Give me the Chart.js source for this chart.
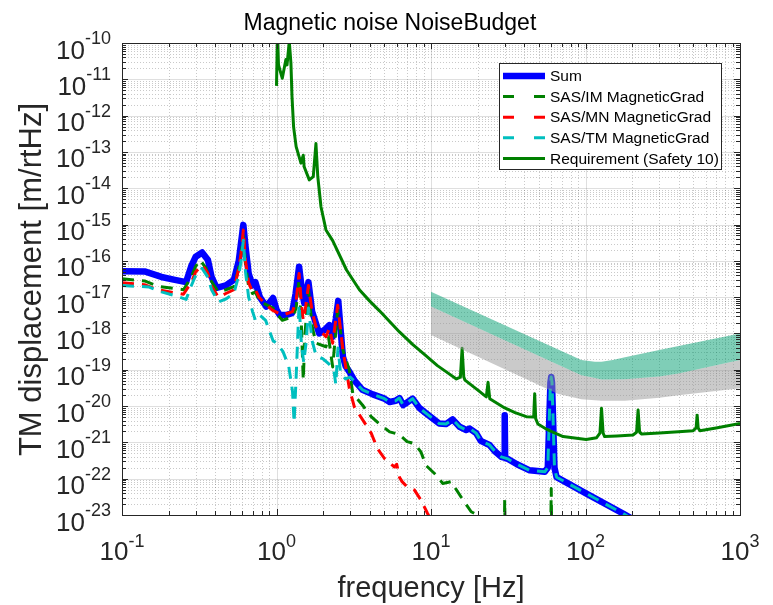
<!DOCTYPE html>
<html>
<head>
<meta charset="utf-8">
<title>Magnetic noise NoiseBudget</title>
<script src="https://cdn.jsdelivr.net/npm/chart.js@4.4.0/dist/chart.umd.min.js"></script>
<style>
  html, body { margin: 0; padding: 0; background: #fff; }
  canvas { display: block; }
</style>
</head>
<body>
<canvas id="noiseChart" width="773" height="605"></canvas>
<script>
// frequency [Hz] and TM displacement [m/rtHz]
var sumFreq = [0.1, 0.14, 0.18, 0.22, 0.26, 0.28, 0.30, 0.33, 0.36, 0.38, 0.41, 0.47, 0.53, 0.57, 0.59, 0.61, 0.63, 0.66, 0.70, 0.73, 0.78, 0.86, 0.95, 1.0, 1.05, 1.15, 1.26, 1.33, 1.40, 1.46, 1.51, 1.56, 1.61, 1.70, 1.89, 2.05, 2.2, 2.31, 2.42, 2.51, 2.6, 2.69, 2.8, 2.96, 3.2, 3.6, 4.2, 5.0, 5.4, 5.9, 6.25, 6.6, 7.0, 7.6, 8.4, 9.3, 11.3, 12.5, 13.8, 15.3, 16.9, 17.8, 19.6, 21, 23.9, 26, 28.5, 29.8, 30, 30.2, 31.5, 36, 43.5, 54.5, 57, 59.3, 60, 60.7, 63, 65, 100, 175, 200];
var sumVal = [5.2e-17, 5.1e-17, 3.6e-17, 3.0e-17, 2.6e-17, 6.9e-17, 1.3e-16, 1.7e-16, 1.05e-16, 3.6e-17, 1.8e-17, 2.1e-17, 3.0e-17, 1.0e-16, 3.2e-16, 9.8e-16, 2.5e-16, 4.5e-17, 2.1e-17, 2.6e-17, 1.0e-17, 5.5e-18, 9.5e-18, 4.5e-18, 3.2e-18, 3.2e-18, 3.6e-18, 1.26e-17, 6.9e-17, 1.6e-17, 6.9e-18, 1.4e-17, 2.6e-17, 4.0e-18, 1.0e-18, 1.26e-18, 1.7e-18, 8.1e-19, 2.5e-18, 7.9e-18, 1.26e-18, 2.3e-19, 1.26e-19, 8.9e-20, 5.0e-20, 2.8e-20, 2.1e-20, 1.6e-20, 1.3e-20, 1.4e-20, 1.66e-20, 1.07e-20, 1.26e-20, 1.6e-20, 8.9e-21, 6.3e-21, 3.3e-21, 3.2e-21, 4.3e-21, 2.7e-21, 2.2e-21, 2.4e-21, 1.8e-21, 1.1e-21, 8.5e-22, 5.6e-22, 4.0e-22, 3.8e-22, 5.6e-21, 3.7e-22, 3.5e-22, 2.5e-22, 1.7e-22, 1.55e-22, 2.0e-22, 4.5e-20, 6.3e-20, 4.5e-20, 2.0e-22, 1.1e-22, 4.0e-23, 1.1e-23, 7.9e-24];

var imFreq = [0.1, 0.14, 0.17, 0.25, 0.28, 0.30, 0.32, 0.35, 0.37, 0.42, 0.47, 0.53, 0.57, 0.59, 0.61, 0.63, 0.66, 0.70, 0.73, 0.77, 0.85, 0.95, 1.0, 1.09, 1.27, 1.34, 1.40, 1.45, 1.49, 1.53, 1.61, 1.7, 1.80, 2.09, 2.17, 2.31, 2.49, 2.69, 2.96, 3.12, 3.6, 4.1, 4.6, 5.4, 6.2, 7.0, 7.8, 8.6, 9.3, 10.8, 11.9, 13.5, 16.1, 18.2, 20, 22, 29.7, 30, 30.3, 59.3, 60, 60.7, 100];
var imVal = [3.2e-17, 2.8e-17, 2.0e-17, 1.6e-17, 3.5e-17, 7.1e-17, 1.05e-16, 6.3e-17, 3.2e-17, 1.4e-17, 1.6e-17, 1.95e-17, 6.3e-17, 1.6e-16, 5.0e-16, 7.9e-17, 2.0e-17, 1.26e-17, 1.4e-17, 8.3e-18, 6.3e-18, 5.0e-18, 3.5e-18, 2.3e-18, 2.9e-18, 5.0e-18, 3.0e-17, 1.6e-18, 5.2e-20, 1.0e-18, 1.6e-17, 1.6e-18, 5.4e-19, 4.3e-19, 8.1e-19, 1.2e-19, 4.4e-18, 3.5e-19, 9.8e-20, 2.2e-20, 1.07e-20, 5.1e-21, 3.3e-21, 1.95e-21, 1.66e-21, 1.05e-21, 9.3e-22, 5.5e-22, 2.3e-22, 1.26e-22, 7.4e-23, 8.3e-23, 2.6e-23, 1.23e-23, 1.0e-23, 5.0e-24, 1.0e-24, 2.6e-23, 1.0e-24, 5.0e-25, 5.4e-23, 5.0e-25, 1.6e-25];

var mnFreq = [0.1, 0.14, 0.17, 0.25, 0.28, 0.30, 0.33, 0.36, 0.38, 0.42, 0.47, 0.53, 0.57, 0.59, 0.61, 0.63, 0.66, 0.70, 0.73, 0.77, 0.85, 0.94, 1.09, 1.27, 1.34, 1.40, 1.45, 1.49, 1.54, 1.61, 1.7, 1.80, 2.09, 2.2, 2.31, 2.49, 2.69, 2.96, 3.19, 3.8, 4.1, 4.5, 5.0, 5.8, 6.0, 6.25, 6.5, 7.0, 7.8, 8.6, 9.5, 10.5, 12];
var mnVal = [2.5e-17, 2.2e-17, 1.6e-17, 1.2e-17, 2.5e-17, 5.0e-17, 7.6e-17, 4.5e-17, 2.0e-17, 1.0e-17, 1.26e-17, 1.6e-17, 6.3e-17, 1.6e-16, 7.1e-16, 1.0e-16, 2.5e-17, 1.4e-17, 1.6e-17, 1.0e-17, 6.3e-18, 4.4e-18, 3.2e-18, 4.0e-18, 7.9e-18, 4.5e-17, 6.3e-18, 2.3e-18, 5.0e-18, 2.1e-17, 4.0e-18, 1.55e-18, 8.1e-19, 1.4e-18, 5.4e-19, 6.0e-18, 3.5e-19, 3.1e-20, 9.5e-21, 3.0e-21, 1.8e-21, 6.8e-22, 3.6e-22, 2.1e-22, 2.5e-22, 1.1e-22, 8.3e-23, 6.0e-23, 4.9e-23, 2.6e-23, 1.1e-23, 5.0e-24, 1.6e-24];

var tmFreq = [0.1, 0.15, 0.18, 0.22, 0.26, 0.28, 0.30, 0.33, 0.36, 0.38, 0.42, 0.47, 0.53, 0.57, 0.59, 0.61, 0.63, 0.66, 0.70, 0.73, 0.78, 0.85, 0.95, 1.0, 1.1, 1.2, 1.27, 1.3, 1.34, 1.40, 1.45, 1.5, 1.56, 1.61, 1.7, 1.8, 2.0, 2.2, 2.35, 2.42, 2.5, 2.6, 2.8, 3.0, 3.2, 3.6, 4.2, 5.0, 5.4, 5.9, 6.25, 6.6, 7.0, 7.6, 8.4, 9.3, 11.3, 12.5, 13.8, 15.3, 16.9, 17.8, 19.6, 21, 23.9, 26, 28.5, 31.5, 36, 43.5, 54.5, 57, 59.3, 60, 60.7, 63, 65, 100, 175, 200];
var tmVal = [2.1e-17, 1.9e-17, 1.4e-17, 1.1e-17, 8.7e-18, 2.0e-17, 4.0e-17, 6.2e-17, 3.5e-17, 1.6e-17, 7.4e-18, 8.9e-18, 1.26e-17, 4.0e-17, 1.0e-16, 3.7e-16, 5.0e-17, 1.0e-17, 4.0e-18, 2.3e-18, 3.2e-18, 2.3e-18, 6.3e-19, 5.4e-19, 3.2e-19, 1.26e-19, 2.5e-20, 3.5e-21, 6.3e-20, 6.3e-18, 5.0e-19, 1.6e-19, 6.3e-19, 5.0e-18, 6.3e-19, 2.5e-19, 2.0e-19, 1.4e-19, 1.0e-19, 4.0e-20, 4.0e-19, 7.9e-20, 5.6e-20, 6.3e-20, 4.8e-20, 2.8e-20, 2.1e-20, 1.6e-20, 1.3e-20, 1.4e-20, 1.66e-20, 1.07e-20, 1.26e-20, 1.6e-20, 8.9e-21, 6.3e-21, 3.3e-21, 3.2e-21, 4.3e-21, 2.7e-21, 2.2e-21, 2.4e-21, 1.8e-21, 1.1e-21, 8.5e-22, 5.6e-22, 4.0e-22, 3.5e-22, 2.5e-22, 1.7e-22, 1.55e-22, 2.0e-22, 4.5e-20, 6.3e-20, 4.5e-20, 2.0e-22, 1.1e-22, 4.0e-23, 1.1e-23, 7.9e-24];

var reqFreq = [1.0, 1.015, 1.03, 1.09, 1.15, 1.17, 1.21, 1.24, 1.26, 1.29, 1.34, 1.44, 1.49, 1.51, 1.63, 1.73, 1.80, 1.85, 1.94, 2.09, 2.31, 2.84, 3.44, 4.0, 4.64, 6.25, 7.6, 9.1, 11.0, 12.5, 14.6, 15.5, 15.9, 16.3, 16.6, 20, 22.8, 23.4, 24.0, 30, 35, 41.4, 46.2, 46.9, 47.6, 49.2, 55, 60, 71.6, 101, 118, 124, 127, 130, 133, 160, 203, 214, 219, 224, 231, 300, 400, 498, 520, 528, 536, 550, 700, 1000];
var reqVal = [6.6e-12, 2.0e-10, 2.5e-11, 1.07e-11, 3.5e-11, 2.5e-11, 1.1e-10, 2.75e-11, 3.3e-12, 4.9e-13, 1.4e-13, 4.9e-14, 8.1e-14, 3.9e-14, 1.7e-14, 2.1e-14, 1.7e-13, 2.1e-14, 3.1e-15, 7.1e-16, 3.6e-16, 5.6e-17, 1.6e-17, 7.9e-18, 4.2e-18, 1.1e-18, 5.0e-19, 2.6e-19, 1.3e-19, 8.9e-20, 5.6e-20, 6.3e-20, 3.9e-19, 6.3e-20, 5.2e-20, 2.8e-20, 1.8e-20, 4.5e-20, 1.6e-20, 8.9e-21, 6.6e-21, 5.1e-21, 5.0e-21, 2.2e-20, 4.5e-21, 3.2e-21, 2.4e-21, 2.0e-21, 1.45e-21, 1.2e-21, 1.35e-21, 1.8e-21, 8.7e-21, 1.8e-21, 1.45e-21, 1.5e-21, 1.6e-21, 1.9e-21, 7.8e-21, 1.9e-21, 1.7e-21, 1.8e-21, 1.95e-21, 2.1e-21, 2.5e-21, 5.6e-21, 2.5e-21, 2.1e-21, 2.5e-21, 3.3e-21];

// shaded bands above 10 Hz: edges of the teal and the grey area
var bandFreq = [10, 66, 94, 115, 127, 150, 180, 300, 400, 1000];
var tealTop = [1.4e-17, 3.7e-19, 1.86e-19, 1.66e-19, 1.66e-19, 1.86e-19, 2.2e-19, 3.5e-19, 4.5e-19, 1.0e-18];
var tealBottom = [5.5e-18, 1.4e-19, 7.1e-20, 5.9e-20, 5.4e-20, 5.4e-20, 5.5e-20, 6.5e-20, 7.9e-20, 1.86e-19];
var greyBottom = [9.1e-19, 2.2e-20, 1.55e-20, 1.45e-20, 1.4e-20, 1.4e-20, 1.4e-20, 1.7e-20, 2.0e-20, 3.1e-20];

var xDecades = [-1, 0, 1, 2, 3];
var yDecades = [-23, -22, -21, -20, -19, -18, -17, -16, -15, -14, -13, -12, -11, -10];

var FONT = '"Liberation Sans", Arial, Helvetica, sans-serif';
var INK = '#262626';

function pts(f, v) {
    return f.map(function (x, i) { return { x: x, y: v[i] }; });
}

// k * 10^e gridline values for every decade of an axis
function gridValues(decs) {
    var out = [];
    for (var i = 0; i < decs.length; i++) {
        var e = decs[i];
        out.push({ v: Math.pow(10, e), major: true });
        if (i === decs.length - 1) break;
        for (var k = 2; k <= 9; k++) out.push({ v: k * Math.pow(10, e), major: false });
    }
    return out;
}
var xGrid = gridValues(xDecades);
var yGrid = gridValues(yDecades);

var matlabFrame = {
    id: 'matlabFrame',
    beforeDatasetsDraw: function (chart) {
        var ctx = chart.ctx, a = chart.chartArea;
        var xs = chart.scales.x, ys = chart.scales.y;
        ctx.save();
        ctx.lineWidth = 1;
        [false, true].forEach(function (major) {
            ctx.setLineDash(major ? [] : [1, 2]);
            ctx.strokeStyle = major ? 'rgba(38,38,38,0.15)' : 'rgba(38,38,38,0.25)';
            ctx.beginPath();
            xGrid.forEach(function (t) {
                if (t.major !== major) return;
                var px = Math.round(xs.getPixelForValue(t.v)) + 0.5;
                ctx.moveTo(px, a.top);
                ctx.lineTo(px, a.bottom);
            });
            yGrid.forEach(function (t) {
                if (t.major !== major) return;
                var py = Math.round(ys.getPixelForValue(t.v)) + 0.5;
                ctx.moveTo(a.left, py);
                ctx.lineTo(a.right, py);
            });
            ctx.stroke();
        });
        ctx.restore();
    },
    afterDatasetsDraw: function (chart) {
        var ctx = chart.ctx, a = chart.chartArea;
        var xs = chart.scales.x, ys = chart.scales.y;
        ctx.save();

        // ticks on all four sides, pointing in
        ctx.strokeStyle = INK;
        ctx.lineWidth = 1;
        ctx.setLineDash([]);
        ctx.beginPath();
        xGrid.forEach(function (t) {
            var px = Math.round(xs.getPixelForValue(t.v)) + 0.5, len = t.major ? 6 : 4;
            ctx.moveTo(px, a.bottom); ctx.lineTo(px, a.bottom - len);
            ctx.moveTo(px, a.top); ctx.lineTo(px, a.top + len);
        });
        yGrid.forEach(function (t) {
            var py = Math.round(ys.getPixelForValue(t.v)) + 0.5, len = t.major ? 6 : 4;
            ctx.moveTo(a.left, py); ctx.lineTo(a.left + len, py);
            ctx.moveTo(a.right, py); ctx.lineTo(a.right - len, py);
        });
        ctx.stroke();
        ctx.strokeRect(a.left + 0.5, a.top + 0.5, a.right - a.left, a.bottom - a.top);

        // tick labels 10^n
        ctx.fillStyle = INK;
        ctx.textBaseline = 'alphabetic';
        var baseFont = '26px ' + FONT, expFont = '18px ' + FONT;
        xDecades.forEach(function (e) {
            var px = xs.getPixelForValue(Math.pow(10, e));
            var ex = String(e);
            ctx.font = baseFont; var wb = ctx.measureText('10').width;
            ctx.font = expFont; var we = ctx.measureText(ex).width;
            var x0 = px - (wb + we) / 2;
            ctx.textAlign = 'left';
            ctx.font = baseFont; ctx.fillText('10', x0, a.bottom + 45);
            ctx.font = expFont; ctx.fillText(ex, x0 + wb, a.bottom + 32);
        });
        yDecades.forEach(function (e) {
            var py = ys.getPixelForValue(Math.pow(10, e));
            var ex = String(e);
            ctx.font = expFont; var we = ctx.measureText(ex).width;
            ctx.textAlign = 'right';
            ctx.fillText(ex, a.left - 11, py + 1);
            ctx.font = baseFont; ctx.fillText('10', a.left - 11 - we, py + 15.5);
        });

        // axis titles and chart title
        ctx.font = '29px ' + FONT;
        ctx.textAlign = 'center';
        ctx.fillText('frequency [Hz]', (a.left + a.right) / 2, 597);
        ctx.save();
        ctx.translate(41, 279.5);
        ctx.rotate(-Math.PI / 2);
        ctx.font = '31px ' + FONT;
        ctx.fillText('TM displacement [m/rtHz]', 0, 0);
        ctx.restore();
        ctx.fillStyle = '#000';
        ctx.font = '23px ' + FONT;
        ctx.textAlign = 'left';
        ctx.fillText('Magnetic noise NoiseBudget', 243.5, 29.5);

        // legend box, top right inside the axes
        var lx = 499.5, ly = 63.5, lw = 222, lh = 106;
        ctx.fillStyle = '#fff';
        ctx.fillRect(lx, ly, lw, lh);
        ctx.strokeStyle = INK;
        ctx.lineWidth = 1;
        ctx.strokeRect(lx, ly, lw, lh);
        ctx.font = '15.5px ' + FONT;
        ctx.textBaseline = 'middle';
        ctx.textAlign = 'left';
        for (var i = 0; i < 5; i++) {
            var ds = chart.data.datasets[i];
            var yy = 76 + i * 20.6;
            ctx.strokeStyle = ds.borderColor;
            ctx.lineWidth = ds.borderWidth;
            ctx.lineCap = 'butt';
            ctx.setLineDash(ds.borderDash ? [11, 20] : []);
            ctx.beginPath();
            ctx.moveTo(503, yy);
            ctx.lineTo(545, yy);
            ctx.stroke();
            ctx.fillStyle = '#000';
            ctx.fillText(ds.label, 550, yy + 1);
        }
        ctx.restore();
    }
};

new Chart(document.getElementById('noiseChart'), {
    type: 'line',
    data: {
        datasets: [
            { label: 'Sum', data: pts(sumFreq, sumVal), borderColor: '#0000ff', borderWidth: 6.5,
              borderJoinStyle: 'round', borderCapStyle: 'round', order: 5, clip: 0 },
            { label: 'SAS/IM MagneticGrad', data: pts(imFreq, imVal), borderColor: '#008000', borderWidth: 3,
              borderDash: [12, 8], order: 4, clip: 0 },
            { label: 'SAS/MN MagneticGrad', data: pts(mnFreq, mnVal), borderColor: '#ff0000', borderWidth: 3,
              borderDash: [12, 8], order: 3, clip: 0 },
            { label: 'SAS/TM MagneticGrad', data: pts(tmFreq, tmVal), borderColor: '#00bfbf', borderWidth: 3,
              borderDash: [12, 8], order: 2, clip: 0 },
            { label: 'Requirement (Safety 10)', data: pts(reqFreq, reqVal), borderColor: '#008000', borderWidth: 3,
              order: 1, clip: 0 },
            { label: 'band upper', data: pts(bandFreq, tealTop), borderColor: 'rgba(0,0,0,0)', borderWidth: 0,
              backgroundColor: 'rgba(0,158,112,0.5)', fill: '+1', order: 0, clip: 0 },
            { label: 'band lower', data: pts(bandFreq, tealBottom), borderColor: 'rgba(0,0,0,0)', borderWidth: 0,
              backgroundColor: 'rgba(150,150,150,0.5)', fill: '+1', order: 0, clip: 0 },
            { label: 'band floor', data: pts(bandFreq, greyBottom), borderColor: 'rgba(0,0,0,0)', borderWidth: 0,
              fill: false, order: 0, clip: 0 }
        ]
    },
    options: {
        responsive: false,
        animation: false,
        events: [],
        layout: { padding: { left: 122, top: 43, right: 33, bottom: 90 } },
        elements: {
            point: { radius: 0 },
            line: { tension: 0, borderJoinStyle: 'round' }
        },
        scales: {
            x: { type: 'logarithmic', min: 0.1, max: 1000, display: false },
            y: { type: 'logarithmic', min: 1e-23, max: 1e-10, display: false }
        },
        plugins: {
            legend: { display: false },
            tooltip: { enabled: false },
            title: { display: false }
        }
    },
    plugins: [matlabFrame]
});
</script>
</body>
</html>
